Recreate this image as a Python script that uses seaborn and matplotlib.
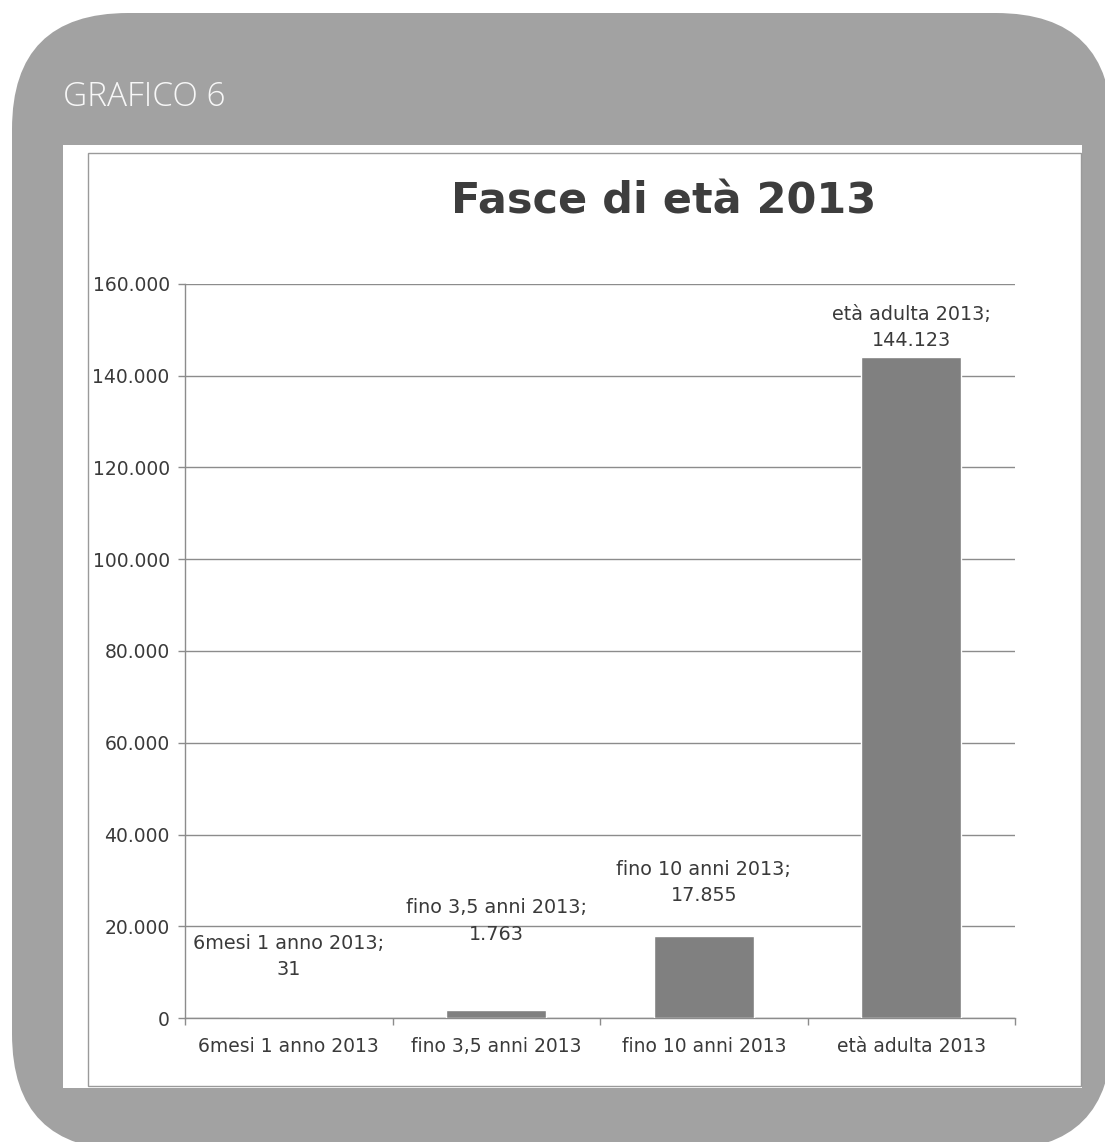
import matplotlib
matplotlib.use("Agg")
import matplotlib.pyplot as plt
from matplotlib.patches import FancyBboxPatch, Rectangle
from matplotlib.ticker import FuncFormatter, FixedLocator
import seaborn as sns
import pandas as pd

# ---- data ----
categories = ["6mesi 1 anno 2013", "fino 3,5 anni 2013", "fino 10 anni 2013", "età adulta 2013"]
values = [31, 1763, 17855, 144123]
value_labels = ["31", "1.763", "17.855", "144.123"]
y_ticks = [0, 20000, 40000, 60000, 80000, 100000, 120000, 140000, 160000]
title = "Fasce di età 2013"
header = "GRAFICO 6"

# label offsets above bar tops (points) -- styling only
label_offsets_pt = [44, 64, 38.5, 21]

sns.set_theme(style="white")
plt.rcParams["font.family"] = ["DejaVu Sans"]

W, H = 1105, 1142
fig = plt.figure(figsize=(W / 100, H / 100), dpi=100)
fig.patch.set_facecolor("white")

def px(x0, y0, x1, y1):
    # pixel box (top-left origin) -> figure fraction
    return (x0 / W, 1 - y1 / H, (x1 - x0) / W, (y1 - y0) / H)

# gray rounded frame
fx, fy, fw, fh = px(12, 13, 1112, 1150)
frame = FancyBboxPatch((fx, fy), fw, fh,
                       boxstyle="round,pad=0,rounding_size=0.105",
                       transform=fig.transFigure, facecolor="#a2a2a2",
                       edgecolor="none", zorder=0, mutation_aspect=W / H)
fig.patches.append(frame)

# white panel
wx, wy, ww, wh = px(63, 145, 1082, 1088)
fig.patches.append(Rectangle((wx, wy), ww, wh, transform=fig.transFigure,
                             facecolor="white", edgecolor="none", zorder=1))
# chart area border
bx, by, bw, bh = px(88, 153, 1081, 1086)
fig.patches.append(Rectangle((bx, by), bw, bh, transform=fig.transFigure,
                             facecolor="none", edgecolor="#9a9a9a", lw=1.0, zorder=2))

fig.text(63 / W, 1 - 97 / H, header, color="#f7f7f7", fontsize=24,
         fontweight="light", ha="left", va="center", family=["Open Sans", "DejaVu Sans"])
fig.text(664 / W, 1 - 201 / H, title, color="#3d3d3d", fontsize=31,
         fontweight="bold", ha="center", va="center")

ax = fig.add_axes(px(185, 284, 1015, 1018))
ax.set_zorder(3)
ax.patch.set_alpha(0)

df = pd.DataFrame({"cat": categories, "val": values})
sns.barplot(data=df, x="cat", y="val", color="#808080", saturation=1,
            width=0.48, ax=ax, zorder=3)

ax.set_ylim(0, 160000)
ax.set_xlim(-0.5, len(categories) - 0.5)
ax.set_yticks(y_ticks)
ax.yaxis.set_major_formatter(FuncFormatter(lambda v, p: f"{int(v):,}".replace(",", ".")))
ax.grid(axis="y", color="#8c8c8c", lw=1.0, zorder=0)
ax.set_axisbelow(True)
ax.set_xlabel("")
ax.set_ylabel("")

for s in ["top", "right"]:
    ax.spines[s].set_visible(False)
for s in ["left", "bottom"]:
    ax.spines[s].set_color("#8c8c8c")
    ax.spines[s].set_linewidth(1.0)

ax.tick_params(axis="y", which="major", length=5, color="#8c8c8c", width=1,
               labelsize=13.5, labelcolor="#3a3a3a", pad=6, left=True)
ax.tick_params(axis="x", which="major", length=0, labelsize=13.5,
               labelcolor="#3a3a3a", pad=14)
ax.xaxis.set_minor_locator(FixedLocator([i - 0.5 for i in range(len(categories) + 1)]))
ax.tick_params(axis="x", which="minor", length=5, color="#8c8c8c", width=1, bottom=True)

for i, (cat, v, lab) in enumerate(zip(categories, values, value_labels)):
    ax.annotate(f"{cat};\n{lab}", xy=(i, v), xytext=(0, label_offsets_pt[i]),
                textcoords="offset points", ha="center", va="center",
                fontsize=13.8, color="#3a3a3a", linespacing=1.5, zorder=5)

fig.savefig("out.png", dpi=100, facecolor="white")
